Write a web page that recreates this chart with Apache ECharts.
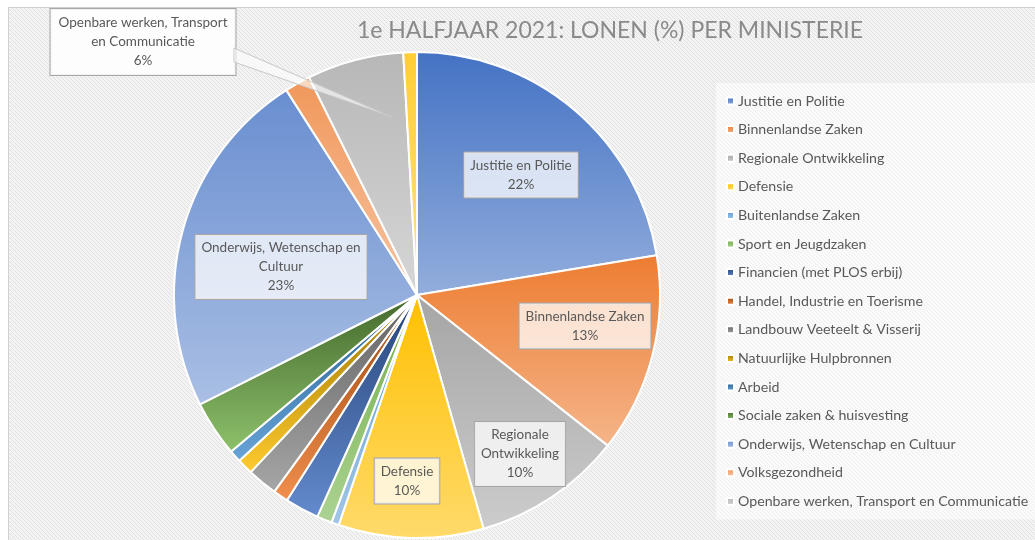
<!DOCTYPE html>
<html>
<head>
<meta charset="utf-8">
<script src="https://cdn.jsdelivr.net/npm/echarts@6/dist/echarts.min.js"></script>
<style>
  html, body { margin: 0; padding: 0; background: #fff; }
  #chart { width: 1035px; height: 540px; }
</style>
</head>
<body>
<div id="chart"></div>
<script>
// ministeries, in de volgorde van de taartpunten (met de klok mee vanaf 12 uur)
const categories = [
  'Justitie en Politie',
  'Binnenlandse Zaken',
  'Regionale Ontwikkeling',
  'Defensie',
  'Buitenlandse Zaken',
  'Sport en Jeugdzaken',
  'Financien (met PLOS erbij)',
  'Handel, Industrie en Toerisme',
  'Landbouw Veeteelt & Visserij',
  'Natuurlijke Hulpbronnen',
  'Arbeid',
  'Sociale zaken & huisvesting',
  'Onderwijs, Wetenschap en Cultuur',
  'Volksgezondheid',
  'Openbare werken, Transport en Communicatie',
  'Overige'
]
// aandeel in de lonen (%), geschat uit de taart
const values = [22.3, 13.2, 9.9, 9.6, 0.5, 1.0, 2.25, 1.0, 2.0, 1.05, 0.8, 3.7, 23.3, 1.7, 6.4, 0.9]
// alleen deze punten krijgen een label
const labelText = {
  'Justitie en Politie': 'Justitie en Politie',
  'Binnenlandse Zaken': 'Binnenlandse Zaken',
  'Regionale Ontwikkeling': 'Regionale\nOntwikkeling',
  'Defensie': 'Defensie',
  'Onderwijs, Wetenschap en Cultuur': 'Onderwijs, Wetenschap en\nCultuur',
  'Openbare werken, Transport en Communicatie': 'Openbare werken, Transport\nen Communicatie'
}

const colors = ['#4472C4', '#ED7D31', '#A5A5A5', '#FFC000', '#5B9BD5', '#70AD47', '#264478', '#9E480E',
  '#636363', '#997300', '#255E91', '#43682B', '#698ED0', '#F1975A', '#B7B7B7', '#FFCD33']

// waar de labels staan (pixels)
const labelPos = {
  'Justitie en Politie': [521, 175],
  'Binnenlandse Zaken': [585, 326],
  'Regionale Ontwikkeling': [520, 454],
  'Defensie': [407, 481],
  'Onderwijs, Wetenschap en Cultuur': [281, 267],
  'Openbare werken, Transport en Communicatie': [143, 42]
}

function lighter (hex, k) {
  let r = parseInt(hex.slice(1, 3), 16) / 255
  let g = parseInt(hex.slice(3, 5), 16) / 255
  let b = parseInt(hex.slice(5, 7), 16) / 255
  const max = Math.max(r, g, b), min = Math.min(r, g, b)
  let h = 0, s = 0, l = (max + min) / 2
  if (max !== min) {
    const d = max - min
    s = l > 0.5 ? d / (2 - max - min) : d / (max + min)
    if (max === r) h = (g - b) / d + (g < b ? 6 : 0)
    else if (max === g) h = (b - r) / d + 2
    else h = (r - g) / d + 4
    h /= 6
  }
  l = l + (1 - l) * k
  return 'hsl(' + Math.round(h * 360) + ',' + Math.round(s * 100) + '%,' + Math.round(l * 100) + '%)'
}

// achtergrond met schuine streepjes
const tile = document.createElement('canvas')
tile.width = 4
tile.height = 4
const ctx = tile.getContext('2d')
ctx.fillStyle = '#f3f3f3'
ctx.fillRect(0, 0, 4, 4)
ctx.fillStyle = '#e1e1e1'
for (let i = 0; i < 4; i++) ctx.fillRect(i, i, 1, 1)

const font = 'Lato, "Open Sans", sans-serif'

const pieData = categories.map((name, i) => {
  const item = {
    name: name,
    value: values[i],
    itemStyle: {
      color: {
        type: 'linear', x: 0, y: 0, x2: 0, y2: 1,
        colorStops: [
          { offset: 0, color: colors[i] },
          { offset: 1, color: lighter(colors[i], 0.42) }
        ]
      }
    }
  }
  if (labelText[name]) {
    item.label = { show: true }
  }
  if (name === 'Openbare werken, Transport en Communicatie') {
    item.label = { show: true, backgroundColor: 'rgba(255,255,255,0.85)', padding: [5, 8, 4, 8] }
  }
  return item
})

const chart = echarts.init(document.getElementById('chart'))
chart.setOption({
  animation: false,
  graphic: [{
    type: 'rect',
    z: -10,
    shape: { x: 8.5, y: 7.5, width: 1040, height: 540 },
    style: { fill: { image: tile, repeat: 'repeat' }, stroke: '#d0d0d0', lineWidth: 1 },
    silent: true
  }, {
    // aanwijspunt van het label "Openbare werken"
    type: 'polygon',
    z: 100,
    shape: { points: [[234, 48], [234, 62], [392, 117]] },
    style: { fill: 'rgba(255,255,255,0.6)', stroke: '#c8c8c8', lineWidth: 1 },
    silent: true
  }],
  title: {
    text: '1e HALFJAAR 2021: LONEN (%) PER MINISTERIE',
    left: 605,
    top: 14,
    textAlign: 'center',
    textStyle: { fontFamily: font, fontSize: 23, fontWeight: 'normal', color: '#8a8a8a' }
  },
  legend: {
    orient: 'vertical',
    left: 716,
    top: 83,
    width: 319,
    padding: [8, 10, 8, 10],
    backgroundColor: 'rgba(255,255,255,0.55)',
    itemWidth: 7,
    itemHeight: 7,
    itemGap: 8.6,
    icon: 'rect',
    data: categories.slice(0, 15),
    textStyle: { fontFamily: font, fontSize: 14.2, color: '#595959', lineHeight: 20, padding: [0, 0, 0, -1] }
  },
  series: [{
    type: 'pie',
    center: [417, 295],
    radius: 243,
    startAngle: 90,
    clockwise: true,
    avoidLabelOverlap: false,
    itemStyle: { borderColor: '#ffffff', borderWidth: 2 },
    emphasis: { disabled: true },
    label: {
      show: false,
      position: 'inside',
      formatter: p => labelText[p.name] + '\n' + Math.round(p.percent) + '%',
      fontFamily: font,
      fontSize: 13.5,
      lineHeight: 19,
      color: '#595959',
      align: 'center',
      backgroundColor: 'rgba(255,255,255,0.75)',
      borderColor: '#a6a6a6',
      borderWidth: 1,
      padding: [4, 6, 3, 6]
    },
    labelLine: { show: false },
    labelLayout: p => {
      const name = categories[p.dataIndex]
      const pos = labelPos[name]
      if (!pos) return {}
      return { x: pos[0], y: pos[1], align: 'center', verticalAlign: 'middle' }
    },
    data: pieData
  }]
})
</script>
</body>
</html>
